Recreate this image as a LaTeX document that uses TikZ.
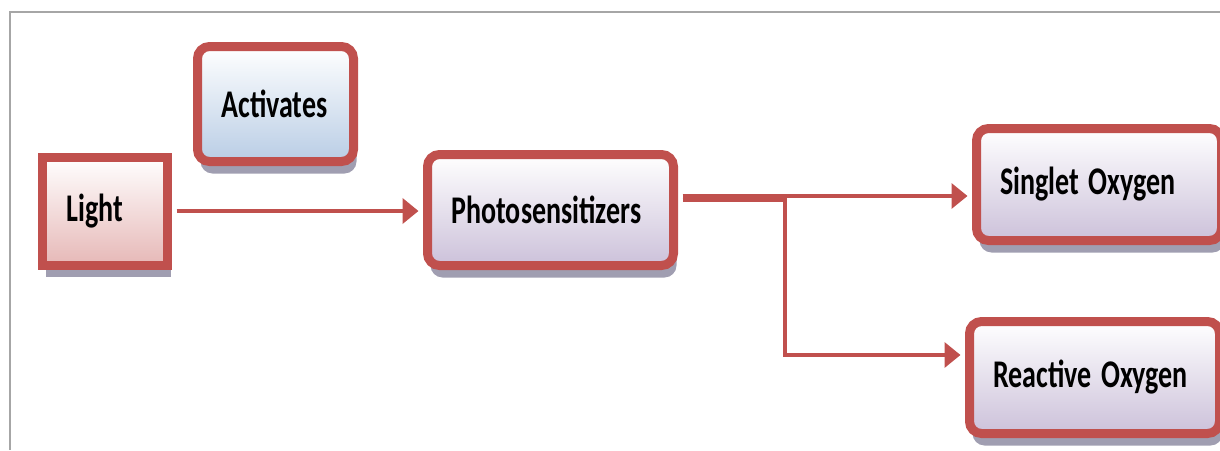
\documentclass[tikz,border=0pt]{standalone}
\usepackage{fontspec}
\setmainfont{Carlito}
\usepackage{graphicx}
\usetikzlibrary{arrows.meta,shadows}
\definecolor{boxred}{RGB}{192,80,77}
\definecolor{pinkfill}{RGB}{230,184,183}
\definecolor{bluefill}{RGB}{185,205,229}
\definecolor{lilacfill}{RGB}{204,193,218}
\definecolor{shadowgray}{RGB}{150,148,168}
\newcommand{\tall}[1]{\scalebox{1}[1.4]{#1}}

\begin{document}
\begin{tikzpicture}[x=1pt,y=-1pt,>={Triangle[length=16pt,width=25pt]},
  box/.style={draw=boxred,line width=9pt,inner xsep=24pt,align=left,
    font=\fontsize{28}{32}\selectfont\bfseries,top color=white,
    drop shadow={shadow xshift=3pt,shadow yshift=-12pt,fill=shadowgray,opacity=0.9}},
  roundbox/.style={rounded corners=12pt},
  link/.style={->,draw=boxred,line width=4pt,shorten <=4.5pt,shorten >=4.5pt},
  branch/.style={link,line width=3.5pt}]
\useasboundingbox (0,0) rectangle (1220,450);
\draw[gray!70,line width=1.2pt] (10,450) -- (10,12) -- (1220,12);

\node[box,bottom color=pinkfill,text width=77pt,minimum height=108pt] (light) at (105,211) {\tall{Light}};
\node[box,roundbox,bottom color=bluefill,text width=108pt,minimum height=115pt] (act) at (275.5,104) {\tall{Activates}};
\node[box,roundbox,bottom color=lilacfill,text width=198pt,minimum height=111pt] (photo) at (550.5,210) {\tall{Photosensitizers}};
\node[box,roundbox,bottom color=lilacfill,text width=197pt,minimum height=112pt] (single) at (1099,184.5) {\tall{Singlet Oxygen}};
\node[box,roundbox,bottom color=lilacfill,text width=202pt,minimum height=112pt] (react) at (1094.5,377.5) {\tall{Reactive Oxygen}};

\coordinate (upper) at (785,196);
\coordinate (split) at (785,200);
\coordinate (turn) at (785,355);

\draw[link] (light.east) -- (light.east -| photo.west);
\draw[branch] (photo.east |- upper) -- (single.west |- upper);
\draw[branch] (photo.east |- split) -- (split) -- (turn) -- (react.west |- turn);
\end{tikzpicture}
\end{document}
